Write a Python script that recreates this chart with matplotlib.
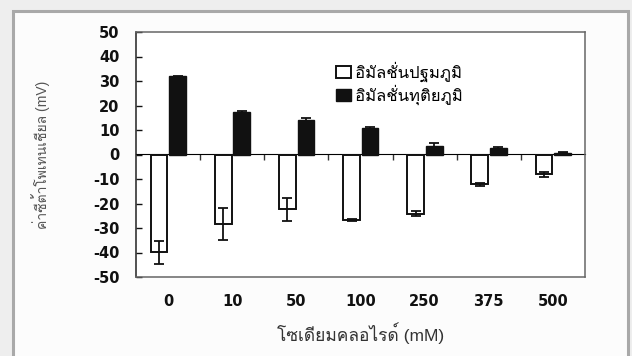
import numpy as np
import matplotlib
matplotlib.use("Agg")
import matplotlib.pyplot as plt
from matplotlib import font_manager
from matplotlib.ft2font import FT2Font
from matplotlib.patches import Rectangle

# data
nacl = ["0", "10", "50", "100", "250", "375", "500"]
primary = [-39.9, -28.3, -22.3, -26.7, -24.2, -12.2, -8.0]
primary_err = [4.7, 6.4, 4.7, 0.3, 1.0, 0.5, 1.0]
secondary = [31.9, 17.3, 14.0, 10.8, 3.4, 2.8, 0.7]
secondary_err = [0.3, 0.3, 0.8, 0.3, 1.4, 0.4, 0.2]
labels = ["อิมัลชั่นปฐมภูมิ", "อิมัลชั่นทุติยภูมิ"]
yticks = np.arange(-50, 51, 10)

# find an installed font that has Thai glyphs
thai = []
for f in font_manager.fontManager.ttflist:
    try:
        if 0x0E01 in FT2Font(f.fname).get_charmap():
            thai.append(f.name)
    except Exception:
        pass
fams = ["Liberation Sans"] + thai[:1] + ["DejaVu Sans"]
plt.rcParams["font.family"] = fams

fig = plt.figure(figsize=(6.32, 3.56), dpi=100, facecolor="#eeeeee")
# white panel with grey frame
fig.patches.append(Rectangle((12.5 / 632, -0.1), 615 / 632, 1.1 - 10.5 / 356,
                             transform=fig.transFigure, facecolor="#fcfcfc",
                             edgecolor="#a9a9a9", lw=2.2, zorder=-5))

ax = fig.add_axes([136 / 632, 1 - 277 / 356, 449 / 632, 245 / 356])
ax.set_facecolor("white")

x = np.arange(len(nacl))
w = 0.26
ax.bar(x - 0.14, primary, w, color="white", edgecolor="#111111", lw=1.4,
       yerr=primary_err, capsize=3.5, error_kw=dict(ecolor="#111111", elinewidth=1.3, capthick=1.3),
       label=labels[0], zorder=3)
ax.bar(x + 0.15, secondary, w, color="#111111", edgecolor="#111111", lw=1.0,
       yerr=secondary_err, capsize=3.5, error_kw=dict(ecolor="#111111", elinewidth=1.3, capthick=1.3),
       label=labels[1], zorder=3)

ax.set_xlim(-0.5, len(nacl) - 0.5)
ax.set_ylim(-50, 50)
ax.set_yticks(yticks)
ax.set_yticklabels([str(v) for v in yticks], fontsize=10.5, fontweight="bold",
                   family="DejaVu Sans")
ax.tick_params(axis="y", direction="in", length=4, width=1.0, pad=12, colors="#111111")
ax.set_xticks(x)
ax.set_xticklabels(nacl, fontsize=10.5, fontweight="bold", family="DejaVu Sans")
ax.tick_params(axis="x", length=0, pad=12, colors="#111111")

# zero line carrying the category boundary ticks
zero = ax.secondary_xaxis(0.5)
zero.set_xticks(x[:-1] + 0.5)
zero.set_xticklabels([])
zero.tick_params(direction="in", length=4, width=1.0, color="#333333")
zero.spines["bottom"].set_linewidth(1.2)
zero.spines["bottom"].set_color("#222222")

for s in ax.spines.values():
    s.set_color("#666666")
    s.set_linewidth(1.1)
ax.spines["left"].set_color("#222222")

ax.set_ylabel("ค่าซีต้าโพเทนเชียล (mV)", fontsize=10, color="#555555", labelpad=31)
ax.set_xlabel("โซเดียมคลอไรด์ (mM)", fontsize=12.5, color="#333333", labelpad=10)

ax.legend(loc="upper left", bbox_to_anchor=(0.43, 0.905), frameon=False,
          fontsize=12, handlelength=0.9, handleheight=0.7, handletextpad=0.25,
          labelspacing=0.15, borderaxespad=0)

fig.savefig("out.png", dpi=100, facecolor=fig.get_facecolor())
